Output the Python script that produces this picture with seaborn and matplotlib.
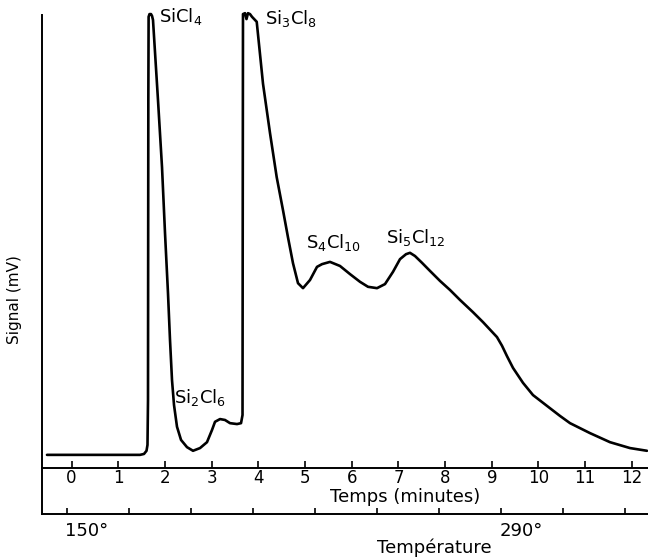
import numpy as np
import pandas as pd
import matplotlib.pyplot as plt
import matplotlib.transforms as mtransforms
import seaborn as sns

sns.set_style("white")
plt.rcParams["font.family"] = ["DejaVu Sans"]
plt.rcParams["mathtext.default"] = "regular"
plt.rcParams["text.color"] = "black"
plt.rcParams["axes.labelcolor"] = "black"
plt.rcParams["xtick.color"] = "black"
plt.rcParams["font.size"] = 12

# chromatogram trace: time (minutes) / signal (relative, 100 = full scale)
temps = [-0.525, 0.61, 1.467, 1.552, 1.606, 1.627, 1.638, 1.645, 1.651, 1.670, 1.702, 1.724,
         1.745, 1.852, 1.938, 2.002, 2.066, 2.109, 2.152, 2.195, 2.259, 2.345, 2.473, 2.602,
         2.752, 2.901, 3.009, 3.073, 3.180, 3.287, 3.394, 3.544, 3.630, 3.662, 3.667, 3.672,
         3.715, 3.747, 3.779, 3.822, 3.865, 3.966, 4.101, 4.251, 4.394, 4.529, 4.636, 4.743,
         4.850, 4.957, 5.107, 5.257, 5.364, 5.535, 5.749, 5.964, 6.178, 6.349, 6.542, 6.713,
         6.884, 7.034, 7.163, 7.248, 7.355, 7.505, 7.677, 7.891, 8.105, 8.319, 8.597, 8.812,
         9.111, 9.218, 9.325, 9.454, 9.668, 9.882, 10.246, 10.460, 10.675, 11.103, 11.531,
         11.959, 12.323]
signal = [2.9, 2.9, 2.9, 3.1, 3.8, 5.1, 15.0, 81.2, 99.6, 100.2, 100.2, 99.8,
          98.9, 81.2, 66.4, 51.9, 38.6, 28.3, 19.4, 13.9, 9.1, 6.2, 4.6, 3.8,
          4.4, 5.7, 8.4, 10.2, 10.8, 10.6, 9.9, 9.7, 9.9, 11.7, 60.0, 100.2,
          100.4, 99.1, 100.4, 100.2, 99.6, 98.5, 84.8, 73.9, 64.2, 56.9, 50.9, 45.2,
          40.8, 39.7, 41.5, 44.4, 45.0, 45.5, 44.6, 42.8, 41.1, 40.0, 39.7, 40.6,
          43.3, 46.1, 47.2, 47.5, 46.8, 45.3, 43.5, 41.3, 39.3, 37.1, 34.4, 32.2,
          28.9, 27.0, 24.7, 22.1, 18.8, 16.1, 13.2, 11.5, 9.9, 7.7, 5.7,
          4.4, 3.8]

# peak labels: (text, time, signal at text baseline)
pic_noms = [r"SiCl$_4$", r"Si$_3$Cl$_8$", r"Si$_2$Cl$_6$", r"S$_4$Cl$_{10}$", r"Si$_5$Cl$_{12}$"]
pic_t = [1.88, 4.14, 2.20, 5.02, 6.74]
pic_s = [98.5, 98.0, 14.3, 48.6, 49.7]

temps_ticks = list(range(0, 13))
temp_ticks = list(range(150, 331, 20))
temp_labels = {150: "150°", 290: "290°"}

df = pd.DataFrame({"temps": temps, "signal": signal})

fig = plt.figure(figsize=(6.48, 5.58), dpi=100)
ax = fig.add_axes([42 / 648, 90 / 558, 606 / 648, 453 / 558])
ax2 = fig.add_axes([42 / 648, 44 / 558, 606 / 648, 46 / 558])

sns.lineplot(data=df, x="temps", y="signal", ax=ax, color="black", lw=1.9,
             sort=False, estimator=None, clip_on=False)

ax.set_xlim(-0.632, 12.345)
ax.set_ylim(0, 100)
ax.set_xticks(temps_ticks)
ax.set_yticks([])
ax.tick_params(axis="x", bottom=True, direction="in", length=5, width=1.2, pad=1, labelsize=12)
for side in ["top", "right"]:
    ax.spines[side].set_visible(False)
for side in ["left", "bottom"]:
    ax.spines[side].set_linewidth(1.4)
    ax.spines[side].set_color("black")
ax.set_xlabel("Temps (minutes)", fontsize=13)
ax.xaxis.set_label_coords(0.60, -0.045)
ax.set_ylabel("Signal (mV)", fontsize=11)
ax.yaxis.set_label_coords(-0.033, 0.371)

for nom, t, s in zip(pic_noms, pic_t, pic_s):
    ax.text(t, s, nom, ha="left", va="baseline", fontsize=13)

# temperature scale underneath
ax2.patch.set_alpha(0)
ax2.set_xlim(141.94, 337.42)
ax2.set_ylim(0, 1)
ax2.set_xticks(temp_ticks)
ax2.set_xticklabels([temp_labels.get(v, "") for v in temp_ticks])
ax2.set_yticks([])
ax2.tick_params(axis="x", bottom=True, direction="in", length=4, width=1.2, pad=6, labelsize=13)
for side in ["top", "right"]:
    ax2.spines[side].set_visible(False)
for side in ["left", "bottom"]:
    ax2.spines[side].set_linewidth(1.4)
    ax2.spines[side].set_color("black")
decal = mtransforms.ScaledTranslation(20 / 100, 0, fig.dpi_scale_trans)
for lab in ax2.get_xticklabels():
    lab.set_transform(lab.get_transform() + decal)
ax2.set_xlabel("Température", fontsize=13)
ax2.xaxis.set_label_coords(0.647, -0.54)

fig.savefig("out.png", dpi=100, facecolor="white")
